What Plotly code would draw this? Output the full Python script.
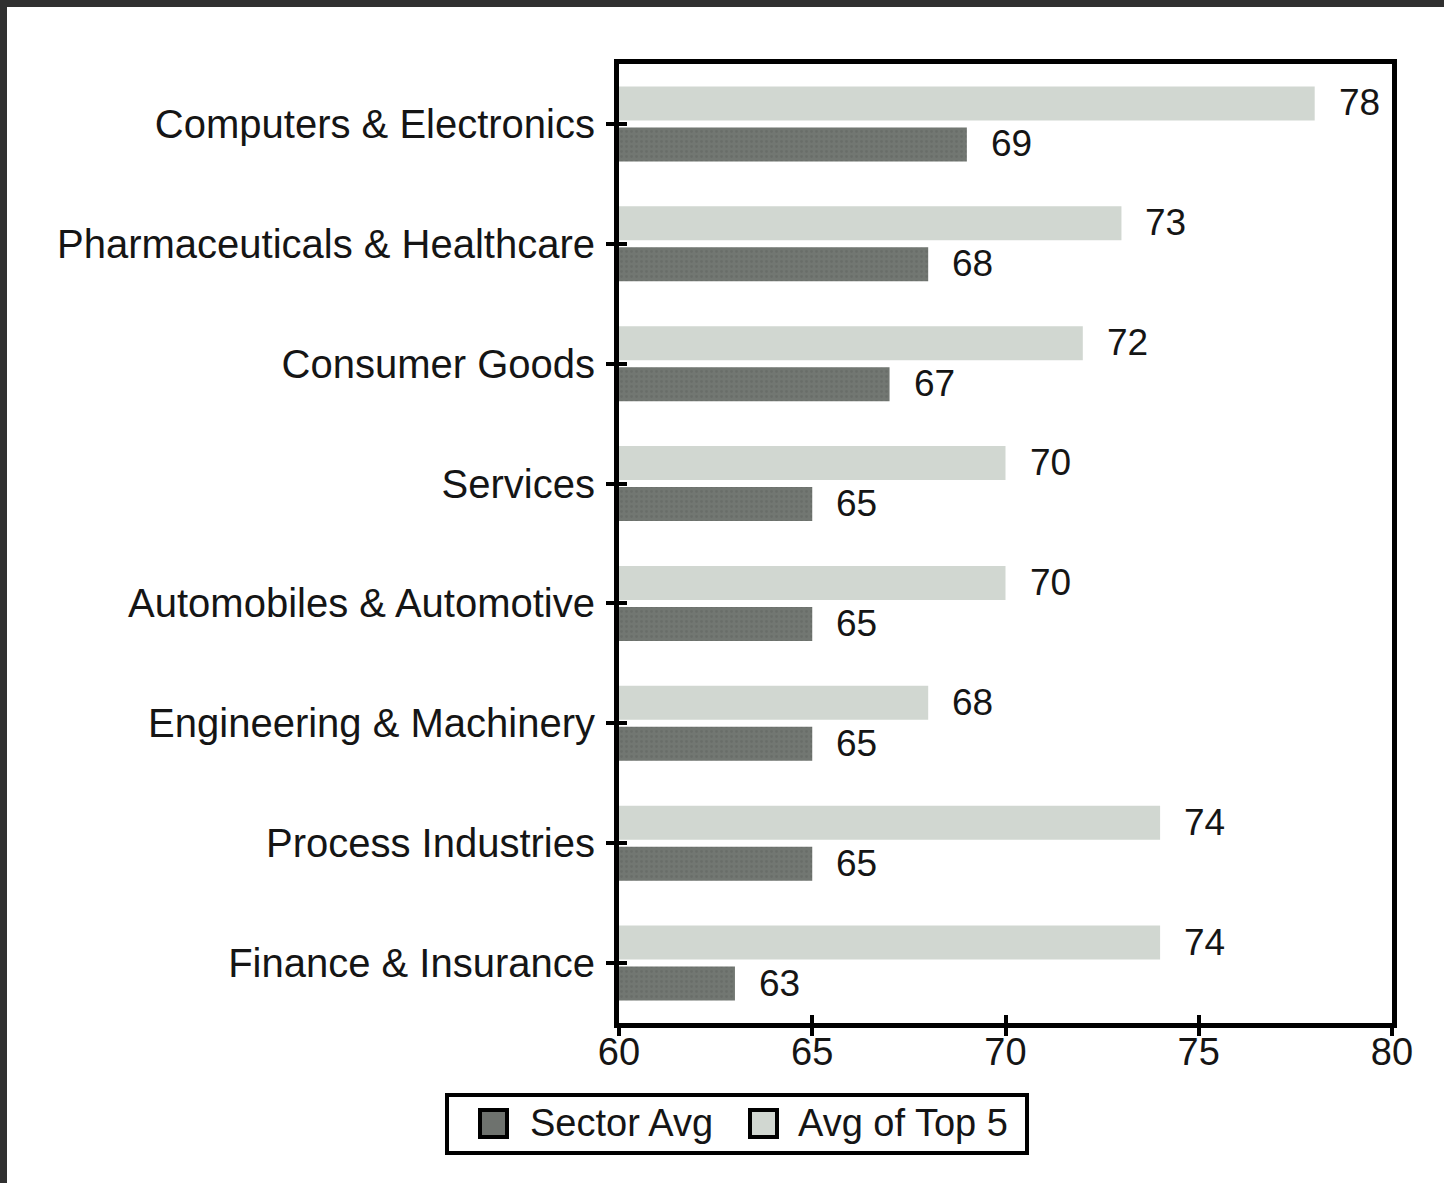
import plotly.graph_objects as go

# Sector scores, listed top to bottom as they appear on the chart
sectors = [
    "Computers & Electronics",
    "Pharmaceuticals & Healthcare",
    "Consumer Goods",
    "Services",
    "Automobiles & Automotive",
    "Engineering & Machinery",
    "Process Industries",
    "Finance & Insurance",
]
sector_avg = [69, 68, 67, 65, 65, 65, 65, 63]
top5_avg = [78, 73, 72, 70, 70, 68, 74, 74]
x_ticks = [60, 65, 70, 75, 80]

DARK = "#6e726e"
LIGHT = "#d1d7d1"
FONT = "Liberation Sans, Arial, Helvetica, sans-serif"
INK = "#151515"

W, H = 1444, 1183
ML, MR, MT, MB = 619, 52, 64, 160
PW, PH = W - ML - MR, H - MT - MB


def px(x):
    return (x - ML) / PW


def py(y):
    return (H - MB - y) / PH


fig = go.Figure()
fig.add_trace(go.Bar(
    name="Sector Avg", y=sectors, x=sector_avg, orientation="h",
    marker=dict(color=DARK, line=dict(width=0),
                pattern=dict(shape=".", fgcolor="#5f635f", bgcolor="#727772",
                             size=5, solidity=0.25)),
    showlegend=False,
))
fig.add_trace(go.Bar(
    name="Avg of Top 5", y=sectors, x=top5_avg, orientation="h",
    marker=dict(color=LIGHT, line=dict(width=0)),
    showlegend=False,
))
# empty trace that carries the inner tick marks on the overlay axes
fig.add_trace(go.Scatter(x=[None], y=[None], xaxis="x2", yaxis="y2",
                         mode="markers", showlegend=False, hoverinfo="skip"))

# value labels just past the end of each bar
annotations = []
for cat, s, t in zip(sectors, sector_avg, top5_avg):
    annotations.append(dict(x=t, y=cat, xref="x", yref="y", text=str(t),
                            showarrow=False, xanchor="left", yanchor="middle",
                            xshift=22, yshift=21,
                            font=dict(family=FONT, size=37, color=INK)))
    annotations.append(dict(x=s, y=cat, xref="x", yref="y", text=str(s),
                            showarrow=False, xanchor="left", yanchor="middle",
                            xshift=22, yshift=-20,
                            font=dict(family=FONT, size=37, color=INK)))

# legend drawn as a boxed key below the axis
shapes = [
    dict(type="rect", xref="paper", yref="paper",
         x0=px(447), x1=px(1027), y0=py(1153), y1=py(1095),
         line=dict(color="#000", width=4), fillcolor="white", layer="above"),
    dict(type="rect", xref="paper", yref="paper",
         x0=px(480), x1=px(507), y0=py(1137), y1=py(1110),
         line=dict(color="#000", width=4), fillcolor=DARK, layer="above"),
    dict(type="rect", xref="paper", yref="paper",
         x0=px(750), x1=px(777), y0=py(1137), y1=py(1110),
         line=dict(color="#000", width=4), fillcolor=LIGHT, layer="above"),
    # dark frame along the top and left edges of the page
    dict(type="rect", xref="paper", yref="paper",
         x0=px(0), x1=px(W), y0=py(7), y1=py(0),
         line=dict(width=0), fillcolor="#303030", layer="above"),
    dict(type="rect", xref="paper", yref="paper",
         x0=px(0), x1=px(7), y0=py(H), y1=py(0),
         line=dict(width=0), fillcolor="#303030", layer="above"),
]
annotations += [
    dict(x=px(528), y=py(1123), xref="paper", yref="paper", text="Sector Avg",
         showarrow=False, xanchor="left", yanchor="middle",
         font=dict(family=FONT, size=38, color=INK)),
    dict(x=px(796), y=py(1123), xref="paper", yref="paper", text="Avg of Top 5",
         showarrow=False, xanchor="left", yanchor="middle",
         font=dict(family=FONT, size=38, color=INK)),
]

fig.update_layout(
    width=W, height=H,
    margin=dict(l=ML, r=MR, t=MT, b=MB, pad=0),
    paper_bgcolor="white", plot_bgcolor="white",
    barmode="group", bargap=0.317, bargroupgap=0.17,
    font=dict(family=FONT, size=38, color=INK),
    shapes=shapes, annotations=annotations,
    xaxis=dict(range=[60, 80], tickvals=x_ticks, ticks="outside", ticklen=8,
               tickwidth=4, tickcolor="#000", showline=True, linewidth=5,
               linecolor="#000", mirror=True, showgrid=False, zeroline=False,
               ticklabelstandoff=-17,
               tickfont=dict(family=FONT, size=38, color=INK)),
    yaxis=dict(categoryorder="array", categoryarray=sectors[::-1],
               range=[-0.5, len(sectors) - 0.5],
               ticks="outside", ticklen=8, tickwidth=4, tickcolor="#000",
               showline=True, linewidth=5, linecolor="#000", mirror=True,
               showgrid=False, zeroline=False, ticklabelstandoff=3,
               tickfont=dict(family=FONT, size=40, color=INK)),
    xaxis2=dict(overlaying="x", anchor="y", side="bottom", range=[60, 80],
                tickvals=x_ticks, ticks="inside", ticklen=8, tickwidth=4,
                tickcolor="#000", showticklabels=False, showline=False,
                showgrid=False, zeroline=False),
    yaxis2=dict(overlaying="y", anchor="x", side="left", type="linear",
                range=[-0.5, len(sectors) - 0.5],
                tickvals=list(range(len(sectors))), ticks="inside", ticklen=8,
                tickwidth=4, tickcolor="#000", showticklabels=False,
                showline=False, showgrid=False, zeroline=False),
)

fig.write_html("out.html")
